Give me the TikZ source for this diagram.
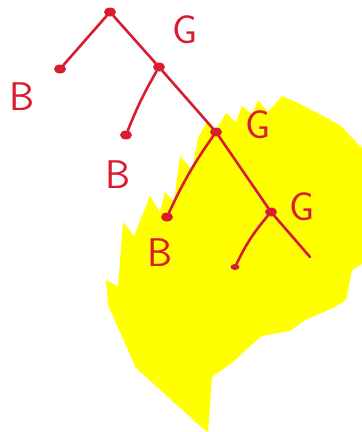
\documentclass[tikz,border=0pt]{standalone}
\usepackage{tikz}
\usetikzlibrary{shapes.geometric}
\definecolor{penred}{RGB}{218, 28, 48}
\definecolor{markyellow}{RGB}{255, 255, 0}
\tikzset{
  % shoxlar
  branch/.style  = {draw=penred, line width=2.6pt, line cap=round},
  % tugunlar
  dotnode/.style = {ellipse, fill=penred, minimum width=12pt, minimum height=9pt, inner sep=0pt},
  smalldot/.style= {ellipse, fill=penred, minimum width=9pt, minimum height=6pt, inner sep=0pt},
  % harflar
  letter/.style  = {text=penred, font=\sffamily\fontsize{40}{40}\selectfont, inner sep=0pt},
}
\begin{document}
\begin{tikzpicture}[x=1pt, y=-1pt]
  \useasboundingbox (0,0) rectangle (362,432);
  % sariq bo'yoq
  \fill[markyellow] (123,222) -- (134,236) -- (150,196) -- (160,212) -- (165,192)
    -- (174,202) -- (180,156) -- (192,170) -- (198,138) -- (207,122) -- (216,130)
    -- (226,113) -- (236,122) -- (242,106) -- (252,114) -- (258,100) -- (268,112)
    -- (282,96) -- (300,104) -- (340,125) -- (362,148) -- (362,264) -- (352,270)
    -- (346,300) -- (333,308) -- (305,320) -- (290,331) -- (262,336) -- (248,348)
    -- (233,362) -- (212,377) -- (208,432) -- (200,426) -- (136,368) -- (108,305)
    -- (106,280) -- (118,286) -- cycle;
  % tugunlar
  \node[dotnode] (root) at (110,12) {};
  \node[dotnode] (l1) at (60,69) {};
  \node[dotnode] (n2) at (159,67) {};
  \node[dotnode] (l2) at (126,135) {};
  \node[dotnode] (n3) at (216,132) {};
  \node[dotnode] (l3) at (167,217) {};
  \node[dotnode] (n4) at (271,212) {};
  \node[smalldot] (l4) at (235,267) {};
  \coordinate (e4) at (310,257);
  % shoxlar
  \draw[branch] (root) -- (l1);
  \draw[branch] (root) -- (n2);
  \draw[branch] (n2) to[bend right=4] (l2);
  \draw[branch] (n2) -- (n3);
  \draw[branch] (n3) to[bend right=5] (l3);
  \draw[branch] (n3) -- (n4);
  \draw[branch] (n4) to[bend right=7] (l4);
  \draw[branch] (n4) -- (e4);
  % harflar
  \node[letter] (b1) at (22,97) {B};
  \node[letter] (b2) at (118,175) {B};
  \node[letter] (b3) at (160,253) {B};
  \node[letter] (g1) at (185,30) {G};
  \node[letter] (g2) at (258,125) {G};
  \node[letter] (g3) at (302,207) {G};
\end{tikzpicture}
\end{document}
